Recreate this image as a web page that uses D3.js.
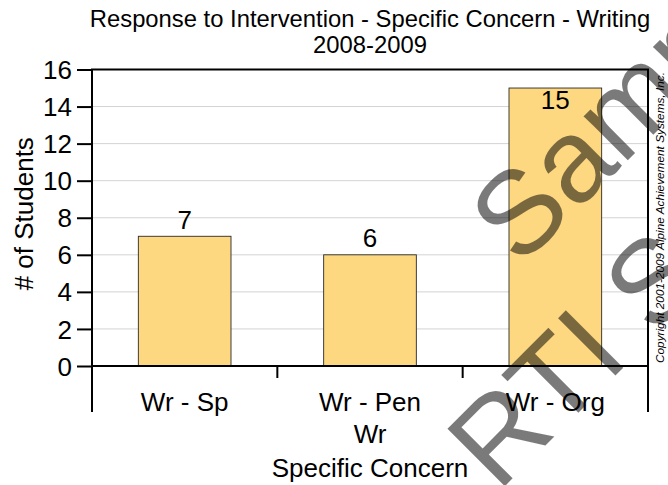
<!DOCTYPE html>
<html>
<head>
<meta charset="utf-8">
<script src="https://cdn.jsdelivr.net/npm/d3@7"></script>
<style>
  html, body { margin: 0; padding: 0; background: #fff; }
  svg { display: block; font-family: "Liberation Sans", Arial, sans-serif; }
</style>
</head>
<body>
<svg id="chart" width="668" height="485"></svg>
<script>
// Data
const categories = ["Wr - Sp", "Wr - Pen", "Wr - Org"];
const students = [7, 6, 15];
const yTicks = [0, 2, 4, 6, 8, 10, 12, 14, 16];
const titleLines = ["Response to Intervention - Specific Concern - Writing", "2008-2009"];
const groupLabel = "Wr";
const xTitle = "Specific Concern";
const yTitle = "# of Students";
const watermarkLines = ["Sample", "RTI Sample"];
const copyright = "Copyright 2001-2009 Alpine Achievement Systems, Inc.";

const W = 668, H = 485;
const plot = { left: 92, right: 648, top: 69.5, bottom: 366 };

const svg = d3.select("#chart");

const x = d3.scaleBand()
  .domain(categories)
  .range([plot.left, plot.right])
  .paddingInner(0.5)
  .paddingOuter(0.25);

const y = d3.scaleLinear()
  .domain([0, 16])
  .range([plot.bottom, plot.top]);

// Gridlines
svg.append("g")
  .selectAll("line")
  .data(yTicks.filter(d => d > 0 && d < 16))
  .join("line")
  .attr("x1", plot.left).attr("x2", plot.right)
  .attr("y1", d => y(d)).attr("y2", d => y(d))
  .attr("stroke", "#d3d3d3").attr("stroke-width", 1);

// Bars
svg.append("g")
  .selectAll("rect")
  .data(students)
  .join("rect")
  .attr("x", (d, i) => x(categories[i]))
  .attr("y", d => y(d))
  .attr("width", x.bandwidth())
  .attr("height", d => plot.bottom - y(d))
  .attr("fill", "#fdd881")
  .attr("stroke", "#2a2a2a")
  .attr("stroke-width", 0.9);

// Value labels: above the bar, or just inside its top when there is no room
svg.append("g")
  .selectAll("text")
  .data(students)
  .join("text")
  .attr("x", (d, i) => x(categories[i]) + x.bandwidth() / 2)
  .attr("y", d => (y(d) - 30 < plot.top) ? y(d) + 20.5 : y(d) - 7.5)
  .attr("text-anchor", "middle")
  .attr("font-size", 26)
  .attr("fill", "#000")
  .text(d => d);

// Y axis
const yAxis = d3.axisLeft(y).tickValues(yTicks).tickSize(15).tickPadding(5);
const gy = svg.append("g")
  .attr("transform", `translate(${plot.left},0)`)
  .call(yAxis);
gy.select(".domain").remove();
gy.selectAll(".tick line").attr("stroke", "#000").attr("stroke-width", 2);
gy.selectAll(".tick text")
  .attr("font-size", 26)
  .attr("font-family", "Liberation Sans, Arial, sans-serif")
  .attr("fill", "#000")
  .attr("dy", "0.35em");

// X axis: category labels and separators between bands
const step = x.step();
const separators = d3.range(1, categories.length).map(i => plot.left + step * i);
svg.append("g")
  .selectAll("line")
  .data(separators)
  .join("line")
  .attr("x1", d => d).attr("x2", d => d)
  .attr("y1", plot.bottom).attr("y2", plot.bottom + 12)
  .attr("stroke", "#000").attr("stroke-width", 2);

svg.append("g")
  .selectAll("text")
  .data(categories)
  .join("text")
  .attr("x", d => x(d) + x.bandwidth() / 2)
  .attr("y", 411)
  .attr("text-anchor", "middle")
  .attr("font-size", 26)
  .text(d => d);

// Plot frame
const frame = svg.append("g").attr("stroke", "#000").attr("stroke-width", 2);
frame.append("line").attr("x1", plot.left - 1).attr("x2", plot.right + 1)
  .attr("y1", plot.top).attr("y2", plot.top);
frame.append("line").attr("x1", plot.left - 1).attr("x2", plot.right + 1)
  .attr("y1", plot.bottom).attr("y2", plot.bottom);
frame.append("line").attr("x1", plot.left).attr("x2", plot.left)
  .attr("y1", plot.top).attr("y2", 412);
frame.append("line").attr("x1", plot.right).attr("x2", plot.right)
  .attr("y1", plot.top).attr("y2", 412);

// Group label and axis titles
const cx = (plot.left + plot.right) / 2;
svg.append("text").attr("x", cx).attr("y", 443)
  .attr("text-anchor", "middle").attr("font-size", 26).text(groupLabel);
svg.append("text").attr("x", cx).attr("y", 477)
  .attr("text-anchor", "middle").attr("font-size", 26).text(xTitle);
svg.append("text")
  .attr("transform", `translate(33,${(plot.top + plot.bottom) / 2 - 4}) rotate(-90)`)
  .attr("text-anchor", "middle").attr("font-size", 26).text(yTitle);

// Title
svg.append("g")
  .selectAll("text")
  .data(titleLines)
  .join("text")
  .attr("x", cx)
  .attr("y", (d, i) => 27 + i * 26)
  .attr("text-anchor", "middle")
  .attr("font-size", 23.8)
  .text(d => d);

// Copyright notice along the right edge
svg.append("text")
  .attr("transform", `translate(664,363) rotate(-90)`)
  .attr("font-size", 11.8)
  .attr("font-style", "italic")
  .attr("fill", "#000")
  .text(copyright);

// Watermark
const wm = svg.append("g").attr("fill", "#000").attr("fill-opacity", 0.52);
const wmOrigins = [[520, 268], [498, 493]];
wm.selectAll("text")
  .data(watermarkLines)
  .join("text")
  .attr("transform", (d, i) => `translate(${wmOrigins[i][0]},${wmOrigins[i][1]}) rotate(-45)`)
  .attr("font-size", 118)
  .text(d => d);
</script>
</body>
</html>
